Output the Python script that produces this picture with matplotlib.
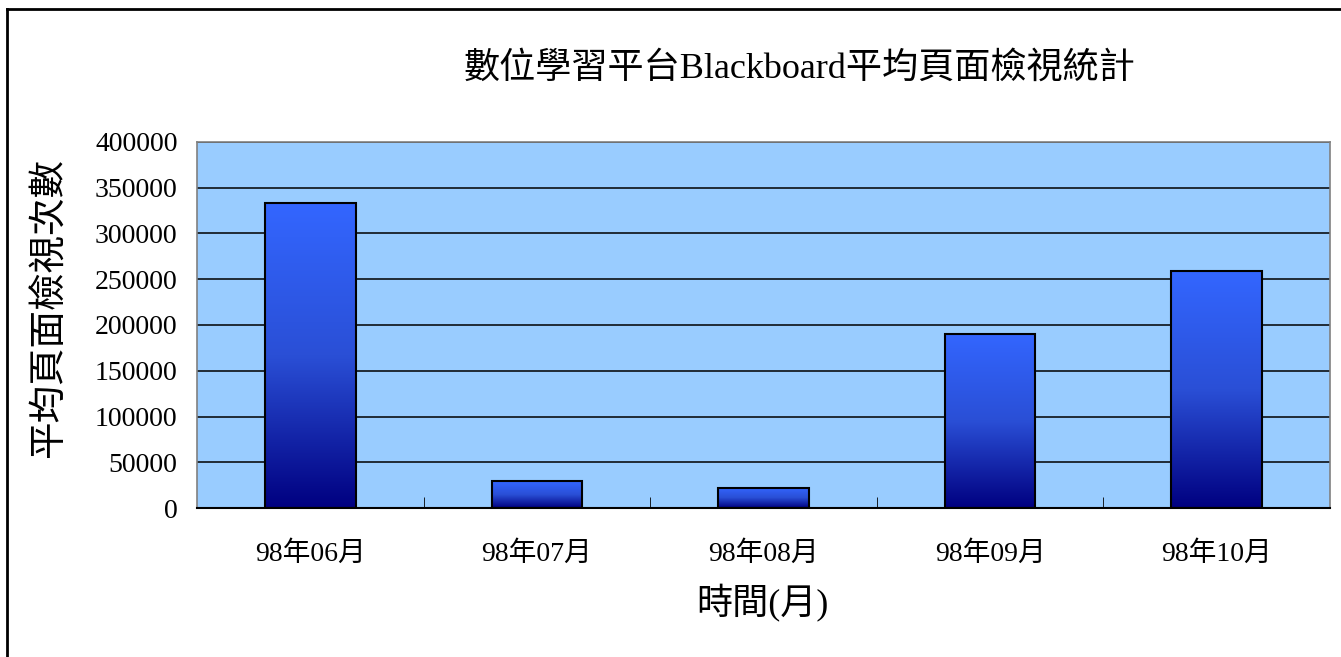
import numpy as np
import matplotlib
matplotlib.use('Agg')
import matplotlib.pyplot as plt
from matplotlib.colors import LinearSegmentedColormap
from matplotlib.lines import Line2D

plt.rcParams['font.family'] = ['Liberation Serif', 'Noto Sans CJK TC', 'DejaVu Sans']

months = ['98年06月', '98年07月', '98年08月', '98年09月', '98年10月']
page_views = [333000, 29500, 21900, 190500, 259000]
yticks = [0, 50000, 100000, 150000, 200000, 250000, 300000, 350000, 400000]

W, H = 1341, 657
fig = plt.figure(figsize=(W / 100, H / 100), dpi=100)
# plot area in pixels: left 197, right 1330, top 142, bottom 508
ax = fig.add_axes([197 / W, 1 - 508 / H, (1330 - 197) / W, (508 - 142) / H])
ax.set_facecolor('#99CCFF')

x = np.arange(len(months))
bars = ax.bar(x, page_views, width=0.4, color='none', edgecolor='black',
              linewidth=1.5, zorder=3)

cmap = LinearSegmentedColormap.from_list('bb', ['#000080', '#2a4fd6', '#3366FF'])
grad = np.linspace(0, 1, 256).reshape(-1, 1)
for b in bars:
    x0, y0 = b.get_x(), b.get_y()
    im = ax.imshow(grad, cmap=cmap, origin='lower', aspect='auto',
                   extent=[x0, x0 + b.get_width(), y0, y0 + b.get_height()],
                   zorder=2)
    im.set_clip_path(b)

ax.set_xlim(-0.5, len(months) - 0.5)
ax.set_ylim(0, 400000)
ax.set_yticks(yticks)
ax.set_yticklabels([str(v) for v in yticks], fontsize=20)
ax.yaxis.grid(True, color='black', linewidth=1.1, zorder=1)
ax.set_axisbelow(True)
ax.tick_params(axis='y', length=0, pad=14)

ax.set_xticks(x)
ax.set_xticklabels(months, fontsize=20)
ax.set_xticks(np.arange(0.5, len(months) - 0.5), minor=True)
ax.tick_params(axis='x', which='major', length=0, pad=24)
ax.tick_params(axis='x', which='minor', length=8, direction='in', color='black')

for s in ['top', 'right', 'left']:
    ax.spines[s].set_color('#808080')
    ax.spines[s].set_linewidth(1.2)
ax.spines['bottom'].set_color('black')
ax.spines['bottom'].set_linewidth(1.5)

fig.text(800 / W, 1 - 69 / H, '數位學習平台Blackboard平均頁面檢視統計',
         ha='center', va='center', fontsize=26)
fig.text(50 / W, 1 - 308 / H, '平均頁面檢視次數', rotation=90,
         ha='center', va='center', fontsize=27)
fig.text(762 / W, 1 - 603 / H, '時間(月)', ha='center', va='center', fontsize=26)

# outer chart border (only top and left are visible in the frame)
fig.add_artist(Line2D([7 / W, 7 / W], [0, 1 - 9 / H], transform=fig.transFigure,
                      color='black', linewidth=2))
fig.add_artist(Line2D([7 / W, 1], [1 - 9 / H, 1 - 9 / H], transform=fig.transFigure,
                      color='black', linewidth=2))

fig.savefig('out.png', dpi=100, facecolor='white')
